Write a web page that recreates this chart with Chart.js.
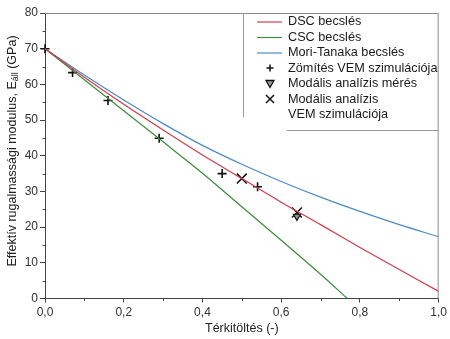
<!DOCTYPE html>
<html>
<head>
<meta charset="utf-8">
<script src="https://cdn.jsdelivr.net/npm/chart.js@4"></script>
<style>
  html, body { margin: 0; padding: 0; background: #fff; }
  #wrap { width: 450px; height: 339px; }
</style>
</head>
<body>
<div id="wrap"><canvas id="chart" width="450" height="339"></canvas></div>
<script>
// adatok
const xGrid = [0, 0.1, 0.2, 0.3, 0.4, 0.5, 0.6, 0.7, 0.8, 0.9, 1.0];
const dscValues = [70, 62.0, 54.4, 47.2, 40.2, 33.6, 27.0, 20.7, 14.3, 8.1, 2.0];
const moriValues = [70, 62.6, 55.6, 49.0, 42.9, 37.6, 32.8, 28.4, 24.4, 20.7, 17.3];
const cscX = [0, 0.1, 0.2, 0.3, 0.4, 0.5, 0.6, 0.7, 0.768];
const cscValues = [70, 61.3, 52.6, 43.9, 35.1, 25.7, 16.3, 6.8, 0];

const femX = [0, 0.07, 0.16, 0.29, 0.45, 0.54];
const femY = [70, 63.3, 55.5, 44.9, 35.0, 31.3];
const modalMeasX = [0.64];
const modalMeasY = [23.0];
const modalFemX = [0.5, 0.64];
const modalFemY = [33.6, 24.1];

const xTicks = [0, 0.2, 0.4, 0.6, 0.8, 1.0];
const yTicks = [0, 10, 20, 30, 40, 50, 60, 70, 80];

const legendLabels = ['DSC becslés', 'CSC becslés', 'Mori-Tanaka becslés',
  'Zömítés VEM szimulációja', 'Modális analízis mérés', 'Modális analízis', 'VEM szimulációja'];

const RED = '#d23c4a', GREEN = '#3d8b3d', BLUE = '#4a8cc4';
const FONT = '"Liberation Sans", Arial, sans-serif';

const pts = (xs, ys) => xs.map((x, i) => ({ x: x, y: ys[i] }));

// keret, kis osztások, tengelycímek, jelmagyarázat
const decor = {
  id: 'decor',
  afterDraw(chart) {
    const ctx = chart.ctx, a = chart.chartArea;
    const xs = chart.scales.x, ys = chart.scales.y;
    ctx.save();
    // felső és jobb keret
    ctx.strokeStyle = '#8a8a8a';
    ctx.lineWidth = 1;
    ctx.beginPath();
    ctx.moveTo(a.left, a.top + 0.5); ctx.lineTo(a.right, a.top + 0.5);
    ctx.moveTo(a.right - 0.5, a.top); ctx.lineTo(a.right - 0.5, a.bottom);
    ctx.stroke();
    // kis osztások
    ctx.strokeStyle = '#444';
    ctx.beginPath();
    for (let v = 0.1; v < 1; v += 0.2) {
      const px = Math.round(xs.getPixelForValue(v)) + 0.5;
      ctx.moveTo(px, a.bottom); ctx.lineTo(px, a.bottom + 2.5);
    }
    for (let v = 5; v < 80; v += 10) {
      const py = Math.round(ys.getPixelForValue(v)) + 0.5;
      ctx.moveTo(a.left - 2.5, py); ctx.lineTo(a.left, py);
    }
    ctx.stroke();

    // x tengelycím
    ctx.fillStyle = '#222';
    ctx.font = '12.5px ' + FONT;
    ctx.textAlign = 'center';
    ctx.textBaseline = 'middle';
    ctx.fillText('Térkitöltés (-)', (a.left + a.right) / 2, 329);

    // y tengelycím alsó indexszel
    ctx.save();
    ctx.translate(13, 151);
    ctx.rotate(-Math.PI / 2);
    const p1 = 'Effektív rugalmassági modulus, E', sub = 'áll', p2 = ' (GPa)';
    ctx.font = '12.5px ' + FONT;
    const w1 = ctx.measureText(p1).width, w3 = ctx.measureText(p2).width;
    ctx.font = '9px ' + FONT;
    const w2 = ctx.measureText(sub).width;
    let x0 = -(w1 + w2 + w3) / 2;
    ctx.textAlign = 'left';
    ctx.font = '12.5px ' + FONT;
    ctx.fillText(p1, x0, 0);
    ctx.font = '9px ' + FONT;
    ctx.fillText(sub, x0 + w1, 3);
    ctx.font = '12.5px ' + FONT;
    ctx.fillText(p2, x0 + w1 + w2, 0);
    ctx.restore();

    // jelmagyarázat keret
    ctx.strokeStyle = '#9a9a9a';
    ctx.beginPath();
    ctx.moveTo(243.5, a.top); ctx.lineTo(243.5, 117);
    ctx.moveTo(287, 130.5); ctx.lineTo(a.right, 130.5);
    ctx.stroke();

    const rows = [21.5, 37, 52.5, 68, 83.5, 99, 114.5];
    const tx = 288, mx = 270;
    ctx.font = '12.7px ' + FONT;
    ctx.fillStyle = '#1a1a1a';
    ctx.textAlign = 'left';
    ctx.textBaseline = 'middle';
    legendLabels.forEach((t, i) => ctx.fillText(t, tx, rows[i]));
    [RED, GREEN, BLUE].forEach((c, i) => {
      ctx.strokeStyle = c; ctx.lineWidth = 1.2;
      ctx.beginPath();
      ctx.moveTo(257, rows[i] + 0.5); ctx.lineTo(282, rows[i] + 0.5);
      ctx.stroke();
    });
    ctx.strokeStyle = '#111'; ctx.lineWidth = 1.5;
    ctx.beginPath();
    ctx.moveTo(mx - 3.5, rows[3]); ctx.lineTo(mx + 3.5, rows[3]);
    ctx.moveTo(mx, rows[3] - 3.5); ctx.lineTo(mx, rows[3] + 3.5);
    ctx.moveTo(mx - 4, rows[5] - 4); ctx.lineTo(mx + 4, rows[5] + 4);
    ctx.moveTo(mx + 4, rows[5] - 4); ctx.lineTo(mx - 4, rows[5] + 4);
    ctx.stroke();
    ctx.lineWidth = 1.3;
    ctx.fillStyle = '#999';
    ctx.beginPath();
    ctx.moveTo(mx - 4, rows[4] - 3); ctx.lineTo(mx + 4, rows[4] - 3); ctx.lineTo(mx, rows[4] + 4);
    ctx.closePath();
    ctx.fill(); ctx.stroke();
    ctx.restore();
  }
};

const lineDs = (label, xs, ys, color) => ({
  type: 'line', label: label, data: pts(xs, ys),
  borderColor: color, borderWidth: 1.2, pointRadius: 0,
  tension: 0.3, fill: false
});

new Chart(document.getElementById('chart'), {
  type: 'scatter',
  data: {
    datasets: [
      lineDs('DSC becslés', xGrid, dscValues, RED),
      lineDs('CSC becslés', cscX, cscValues, GREEN),
      lineDs('Mori-Tanaka becslés', xGrid, moriValues, BLUE),
      {
        label: 'Zömítés VEM szimulációja', data: pts(femX, femY),
        pointStyle: 'cross', pointRadius: 4.5, borderColor: '#111', borderWidth: 1.6, clip: false
      },
      {
        label: 'Modális analízis mérés', data: pts(modalMeasX, modalMeasY),
        pointStyle: 'triangle', rotation: 180, pointRadius: 4, borderColor: '#222',
        backgroundColor: '#999', borderWidth: 1.3
      },
      {
        label: 'Modális analízis VEM szimulációja', data: pts(modalFemX, modalFemY),
        pointStyle: 'crossRot', pointRadius: 7, borderColor: '#111', borderWidth: 1.5
      }
    ]
  },
  options: {
    responsive: false,
    animation: false,
    layout: { padding: { top: 13, right: 8, left: 0, bottom: 0 } },
    plugins: { legend: { display: false }, tooltip: { enabled: false } },
    scales: {
      x: {
        type: 'linear', min: 0, max: 1,
        afterBuildTicks: s => { s.ticks = xTicks.map(v => ({ value: v })); },
        afterFit: s => { s.height = 40.5; },
        ticks: {
          color: '#333', font: { size: 12, family: FONT }, padding: 3,
          callback: v => v.toFixed(1).replace('.', ',')
        },
        grid: { drawOnChartArea: false, drawTicks: true, tickLength: 4, color: '#444' },
        border: { color: '#444', width: 1 }
      },
      y: {
        min: 0, max: 80,
        afterBuildTicks: s => { s.ticks = yTicks.map(v => ({ value: v })); },
        afterFit: s => { s.width = 45; },
        ticks: { color: '#333', font: { size: 12, family: FONT }, padding: 2 },
        grid: { drawOnChartArea: false, drawTicks: true, tickLength: 5, color: '#444' },
        border: { color: '#444', width: 1 }
      }
    }
  },
  plugins: [decor]
});
</script>
</body>
</html>
